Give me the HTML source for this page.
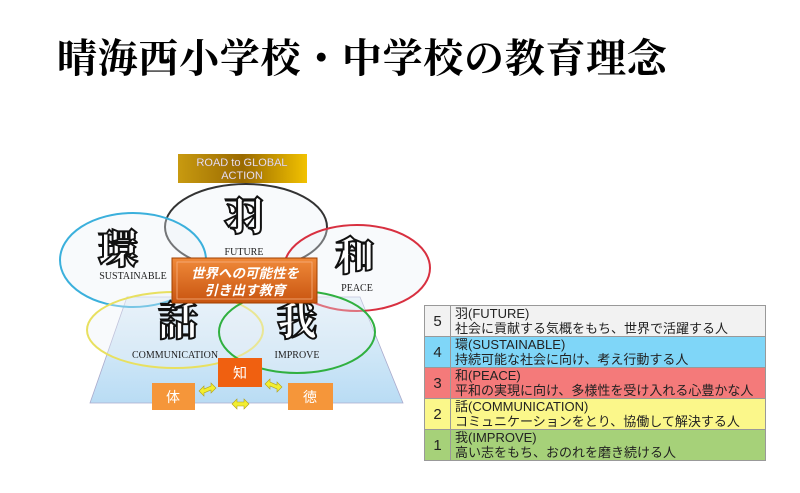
<!DOCTYPE html>
<html><head><meta charset="utf-8"><style>
body{margin:0;width:800px;height:493px;background:#fff;overflow:hidden;position:relative;font-family:"Liberation Sans","Noto Sans CJK JP",sans-serif}
.title{position:absolute;left:57px;top:33px;font-family:"Liberation Serif","Noto Serif CJK JP",serif;font-weight:700;font-size:40px;letter-spacing:0.7px;white-space:nowrap;line-height:52px}
table{position:absolute;left:424px;top:305px;border-collapse:collapse;width:342px}
td{border:1px solid #999;padding:0 0 0 4px;font-size:13px;line-height:15px;height:30px;color:#222}
td.n{width:25px;text-align:center;font-size:15px;padding:0}
</style></head><body>
<div class="title">晴海西小学校・中学校の教育理念</div>
<svg width="800" height="493" style="position:absolute;left:0;top:0">
<defs>
<linearGradient id="gold" x1="0" y1="0" x2="1" y2="0"><stop offset="0" stop-color="#c89a10"/><stop offset="0.5" stop-color="#9a6a00"/><stop offset="1" stop-color="#f2c200"/></linearGradient>
<linearGradient id="trap" x1="0" y1="0" x2="0" y2="1"><stop offset="0" stop-color="#e8f3fb"/><stop offset="1" stop-color="#b9dcf4"/></linearGradient>
<linearGradient id="org" x1="0" y1="0" x2="0" y2="1"><stop offset="0" stop-color="#f08a3a"/><stop offset="1" stop-color="#c85410"/></linearGradient>
</defs>
<polygon points="127,297 360,297 403,403 90,403" fill="url(#trap)" stroke="#aac" stroke-width="0.8"/>
<rect x="178" y="154" width="129" height="29" fill="url(#gold)"/>
<text x="242" y="166" font-size="11" fill="#fff" text-anchor="middle" stroke="#a88" stroke-width="0.3">ROAD to GLOBAL</text>
<text x="242" y="179" font-size="11" fill="#fff" text-anchor="middle" stroke="#a88" stroke-width="0.3">ACTION</text>
<g fill="rgba(235,240,245,0.35)" stroke-width="2">
<ellipse cx="246" cy="227" rx="81" ry="43" stroke="#333"/>
<ellipse cx="133" cy="260" rx="73" ry="47" stroke="#3bb0dc"/>
<ellipse cx="357" cy="268" rx="73" ry="43" stroke="#d83040"/>
<ellipse cx="175" cy="330" rx="88" ry="38" stroke="#e8e060"/>
<ellipse cx="297" cy="332" rx="78" ry="41" stroke="#30b040"/>
</g>
<g font-family="Liberation Serif,Noto Serif CJK JP,serif" font-weight="900" fill="#fff" stroke="#111" stroke-width="2" font-size="40" text-anchor="middle">
<text x="244" y="230">羽</text>
<text x="118" y="263">環</text>
<text x="355" y="270">和</text>
<text x="178" y="335">話</text>
<text x="297" y="335">我</text>
</g>
<g font-family="Liberation Serif,serif" font-size="10" fill="#222" text-anchor="middle">
<text x="244" y="255">FUTURE</text>
<text x="133" y="279">SUSTAINABLE</text>
<text x="357" y="291">PEACE</text>
<text x="175" y="358">COMMUNICATION</text>
<text x="297" y="358">IMPROVE</text>
</g>
<rect x="172" y="258" width="145" height="45" fill="url(#org)" stroke="#a04000"/>
<rect x="177" y="262" width="135" height="37" fill="none" stroke="#f7b080" stroke-width="0.8"/>
<g font-size="13.5" font-weight="bold" font-style="italic" fill="#fff" text-anchor="middle">
<text x="245" y="278">世界への可能性を</text>
<text x="245" y="295">引き出す教育</text>
</g>
<rect x="218" y="358" width="44" height="29" fill="#f06010"/>
<rect x="152" y="383" width="43" height="27" fill="#f5963a"/>
<rect x="288" y="383" width="45" height="27" fill="#f5963a"/>
<g font-size="14" fill="#fff" text-anchor="middle">
<text x="240" y="378">知</text><text x="173" y="402">体</text><text x="310" y="402">徳</text>
</g>
<g fill="#f2ee30" stroke="#b0a020" stroke-width="0.6">
<polygon points="199,391 204,386 204,389 211,386 211,383 216,388 211,393 211,390 204,393 204,396"/>
<polygon points="265,384 270,379 270,382 277,385 277,382 282,387 277,392 277,389 270,386 270,389"/>
<polygon points="232,404 237,399 237,402 244,402 244,399 249,404 244,409 244,406 237,406 237,409"/>
</g>
</svg>
<table>
<tr style="background:#f2f2f2"><td class="n">5</td><td>羽(FUTURE)<br>社会に貢献する気概をもち、世界で活躍する人</td></tr>
<tr style="background:#7fd6f8"><td class="n">4</td><td>環(SUSTAINABLE)<br>持続可能な社会に向け、考え行動する人</td></tr>
<tr style="background:#f47a7a"><td class="n">3</td><td>和(PEACE)<br>平和の実現に向け、多様性を受け入れる心豊かな人</td></tr>
<tr style="background:#fbf78a"><td class="n">2</td><td>話(COMMUNICATION)<br>コミュニケーションをとり、協働して解決する人</td></tr>
<tr style="background:#a6d179"><td class="n">1</td><td>我(IMPROVE)<br>高い志をもち、おのれを磨き続ける人</td></tr>
</table>
</body></html>
